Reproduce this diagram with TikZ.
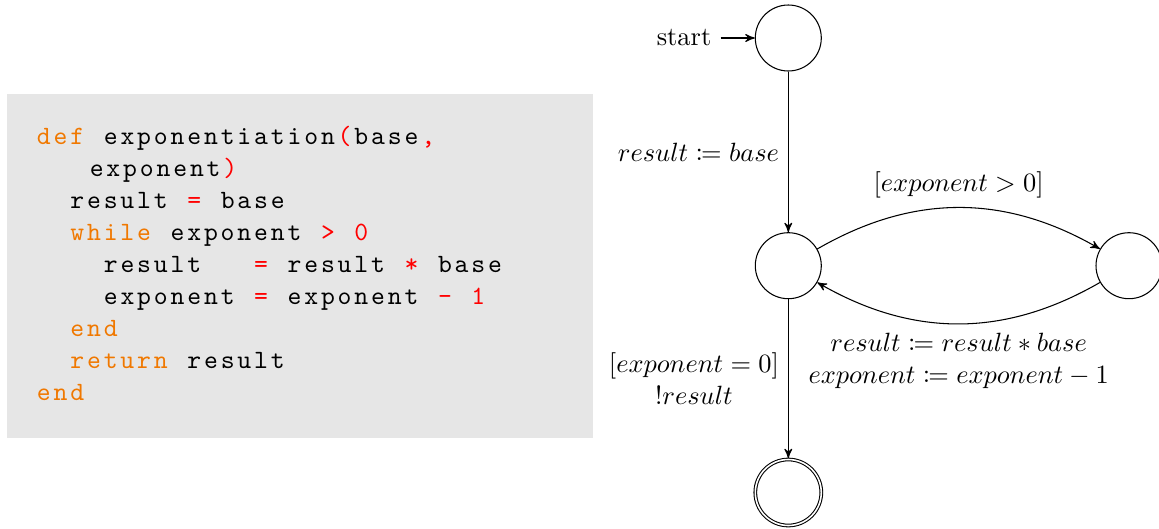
\documentclass[tikz,border=0pt]{standalone}
\usepackage{mathtools}
\usetikzlibrary{automata,arrows}
\definecolor{codebg}{HTML}{E6E6E6}
\definecolor{kwc}{RGB}{240,120,0}
\newlength\cw \setlength\cw{6.33pt}
\makeatletter
\newcommand\mono[1]{\@tfor\mych:=#1\do{\makebox[\cw][c]{\mych}}}
\makeatother
\newcommand\kw[1]{\textcolor{kwc}{\mono{#1}}}
\newcommand\op[1]{\textcolor{red}{\mono{#1}}}
\newcommand\sk[1]{\hspace*{#1\cw}}
\tikzset{
  codeline/.style={anchor=base west, inner sep=0pt, font=\ttfamily},
  every state/.style={minimum size=25pt, inner sep=0pt, line width=0.4pt},
  lbl/.style={inner sep=3.333pt},
}
\begin{document}
\begin{tikzpicture}[x=0.3788pt, y=-0.3788pt, >=stealth', line width=0.4pt]
\useasboundingbox (0,0) rectangle (1159,528);
% code box
\fill[codebg] (7.3,94) rectangle (593.3,438.3);
\node[codeline] (l1) at (35,144.3) {\kw{def}\sk1\mono{exponentiation}\op{(}\mono{base}\op{,}};
\node[codeline] (l2) at (87.8,176.5) {\mono{exponent}\op{)}};
\node[codeline] (l3) at (35,208.7) {\sk2\mono{result}\sk1\op{=}\sk1\mono{base}};
\node[codeline] (l4) at (35,240.7) {\sk2\kw{while}\sk1\mono{exponent}\sk1\op{>}\sk1\op{0}};
\node[codeline] (l5) at (35,272.7) {\sk4\mono{result}\sk3\op{=}\sk1\mono{result}\sk1\op{*}\sk1\mono{base}};
\node[codeline] (l6) at (35,304.5) {\sk4\mono{exponent}\sk1\op{=}\sk1\mono{exponent}\sk1\op{-}\sk1\op{1}};
\node[codeline] (l7) at (35,336.7) {\sk2\kw{end}};
\node[codeline] (l8) at (35,368.3) {\sk2\kw{return}\sk1\mono{result}};
\node[codeline] (l9) at (35,400.3) {\kw{end}};
% automaton
\node[state, initial, initial text=start] (q0) at (788.3,38) {};
\node[state] (q1) at (788.3,265.7) {};
\node[state] (q2) at (1129,265.7) {};
\node[state, accepting] (q3) at (788.3,492.5) {};
\draw[->] (q0) -- node[lbl, left] {$result \coloneqq base$} (q1);
\draw[->] (q1) to[bend left] node[lbl, above] {$[exponent > 0]$} (q2);
\draw[->] (q2) to[bend left] node[lbl, below, align=center] {$result \coloneqq result * base$\\$exponent \coloneqq exponent - 1$} (q1);
\draw[->] (q1) -- node[lbl, left, align=center] {$[exponent = 0]$\\$!result$} (q3);
\end{tikzpicture}
\end{document}
